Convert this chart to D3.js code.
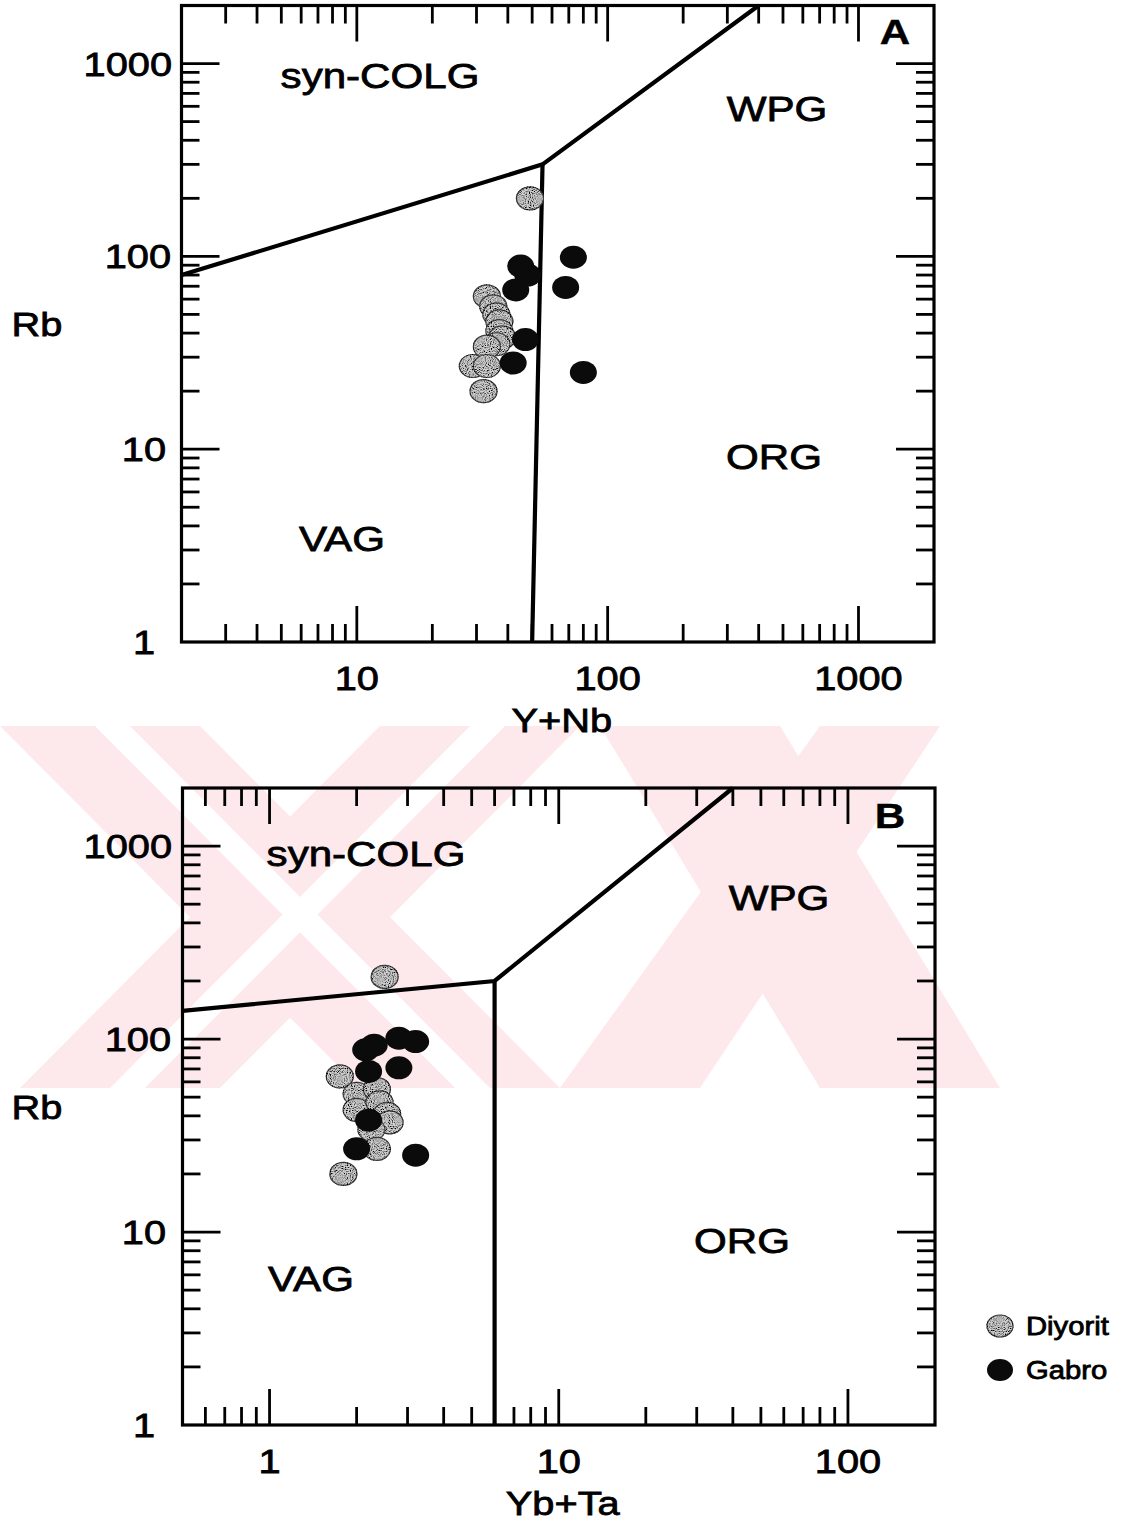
<!DOCTYPE html>
<html><head><meta charset="utf-8">
<script src="https://cdn.jsdelivr.net/npm/d3@7"></script>
<style>body{margin:0;background:#fff} svg{display:block}</style>
</head><body>
<svg id="chart" width="1121" height="1525"></svg>
<script>
// Rb – (Y+Nb) and Rb – (Yb+Ta) granite discrimination diagrams
const diyoritA = [[49,200],[33,62],[35,55],[36,50],[37,46],[37,41],[38,38],[36,35],[33,34],[29,27],[33,27],[32,20]];
const gabroA   = [[45,89],[48,80],[43,67],[73,99],[68,69],[47,37],[42,28],[80,25]];
const diyoritB = [[2.5,210],[1.75,64],[2.0,52],[2.35,55],[2.0,43],[2.4,47],[2.55,41],[2.6,37],[2.25,34],[2.35,27],[1.8,20]];
const gabroB   = [[2.15,88],[2.3,93],[2.8,101],[3.2,97],[2.2,68],[2.8,71],[2.2,38],[2.0,27],[3.2,25]];
const boundaryA = [[[2,80],[55,300],[400,2000]], [[55,300],[50,1]]];
const boundaryB = [[[0.5,140],[6,200],[40,2000]], [[6,200],[6,1]]];
const fieldNames = ["syn-COLG","WPG","ORG","VAG"];
const xLabelsA = [10,100,1000];
const xLabelsB = [1,10,100];
const yLabels  = [1,10,100,1000];
const seriesNames = ["Diyorit","Gabro"];

const svg = d3.select("#chart");
const FONT = "'Liberation Sans', Arial, sans-serif";
const SX = 1.17; // glyphs are drawn slightly wide

// grain for the light symbols
const defs = svg.append("defs");
const f = defs.append("filter").attr("id","stipple").attr("x","-10%").attr("y","-10%").attr("width","120%").attr("height","120%");
f.append("feTurbulence").attr("type","fractalNoise").attr("baseFrequency","0.95").attr("numOctaves",1).attr("seed",7).attr("result","n");
f.append("feColorMatrix").attr("in","n").attr("type","matrix")
  .attr("values","0 0 0 0 0  0 0 0 0 0  0 0 0 0 0  0 0 0 -3.2 1.9").attr("result","dots");
f.append("feComposite").attr("in","dots").attr("in2","SourceGraphic").attr("operator","in").attr("result","d2");
const fm = f.append("feMerge");
fm.append("feMergeNode").attr("in","SourceGraphic");
fm.append("feMergeNode").attr("in","d2");

// faint background emblem
const wm = svg.append("g").attr("fill","#fde8ec");
const wmShapes = [
  [[0,726],[200,726],[560,1088],[360,1088]],
  [[380,726],[580,726],[220,1088],[20,1088]],
  [[600,726],[780,726],[1000,1088],[820,1088]],
  [[820,726],[940,726],[700,1088],[560,1088]]
];
wmShapes.forEach(p => wm.append("polygon").attr("points", p.map(d=>d.join(",")).join(" ")));
const wmGaps = svg.append("g").attr("fill","#fff");
[
  [[95,726],[130,726],[490,1088],[455,1088]],
  [[470,726],[505,726],[145,1088],[110,1088]]
].forEach(p => wmGaps.append("polygon").attr("points", p.map(d=>d.join(",")).join(" ")));

function label(g, str, x, y, anchor, size, weight) {
  return g.append("text")
    .attr("transform", `translate(${x},${y}) scale(${SX},1)`)
    .attr("text-anchor", anchor)
    .attr("font-family", FONT)
    .attr("font-size", size)
    .attr("font-weight", weight || "normal")
    .attr("fill", "#000")
    .attr("stroke", "#000")
    .attr("stroke-width", weight ? 0.4 : 0.8)
    .text(str);
}

function panel(opt) {
  const g = svg.append("g");
  const x = d3.scaleLog().domain(opt.xDomain).range([opt.left, opt.right]);
  const y = d3.scaleLog().domain([1, 2000]).range([opt.bottom, opt.top]);
  const isMajor = v => Math.abs(Math.log10(v) - Math.round(Math.log10(v))) < 1e-9;
  const MAJ = 36, MIN = 18;

  // ticks on all four sides, pointing inward
  const xt = x.ticks().filter(v => v > opt.xDomain[0] && v < opt.xDomain[1]);
  const yt = y.ticks().filter(v => v > 1 && v < 2000);
  const tk = g.append("g").attr("stroke","#000").attr("stroke-width",2.8);
  xt.forEach(v => {
    const L = isMajor(v) ? MAJ : MIN;
    tk.append("line").attr("x1",x(v)).attr("x2",x(v)).attr("y1",opt.bottom).attr("y2",opt.bottom-L);
    tk.append("line").attr("x1",x(v)).attr("x2",x(v)).attr("y1",opt.top).attr("y2",opt.top+L);
  });
  yt.forEach(v => {
    const L = isMajor(v) ? MAJ+2 : MIN;
    tk.append("line").attr("y1",y(v)).attr("y2",y(v)).attr("x1",opt.left).attr("x2",opt.left+L);
    tk.append("line").attr("y1",y(v)).attr("y2",y(v)).attr("x1",opt.right).attr("x2",opt.right-L);
  });

  // frame
  g.append("rect").attr("x",opt.left).attr("y",opt.top)
    .attr("width",opt.right-opt.left).attr("height",opt.bottom-opt.top)
    .attr("fill","none").attr("stroke","#000").attr("stroke-width",3.2);

  // tick labels
  const yLabelRight = [155, 166, 171, 172];
  opt.xLabels.forEach(v => label(g, String(v), x(v), opt.bottom+48, "middle", 34));
  yLabels.forEach((v, i) => label(g, String(v), yLabelRight[i], y(v)+12, "end", 34));

  // axis titles
  label(g, opt.xTitle, (opt.left+opt.right)/2 + 4, opt.bottom+90, "middle", 34);
  label(g, "Rb", 37, (opt.top+opt.bottom)/2 + 12, "middle", 34);

  // field boundaries
  const line = d3.line().x(d => x(d[0])).y(d => y(d[1]));
  opt.bounds.forEach(b => g.append("path").attr("d", line(b))
    .attr("fill","none").attr("stroke","#000").attr("stroke-width",4.2).attr("stroke-linejoin","miter"));

  // field names
  opt.fields.forEach(([name, px, py]) => label(g, name, px, py, "middle", 36));
  label(g, opt.tag, opt.tagPos[0], opt.tagPos[1], "middle", 36, "bold");

  // samples
  g.append("g").selectAll("ellipse").data(opt.diyorit).join("ellipse")
    .attr("cx", d => x(d[0])).attr("cy", d => y(d[1]))
    .attr("rx", 13.5).attr("ry", 11.5)
    .attr("fill","#d0d0d0").attr("stroke","#444").attr("stroke-width",1.2)
    .attr("filter","url(#stipple)");
  g.append("g").selectAll("ellipse").data(opt.gabro).join("ellipse")
    .attr("cx", d => x(d[0])).attr("cy", d => y(d[1]))
    .attr("rx", 13.5).attr("ry", 11.5)
    .attr("fill","#0b0b0b");
}

panel({
  xDomain: [2, 2000], left: 181.5, right: 934, top: 5.5, bottom: 642,
  xLabels: xLabelsA, xTitle: "Y+Nb", bounds: boundaryA,
  diyorit: diyoritA, gabro: gabroA, tag: "A", tagPos: [895, 44],
  fields: [[fieldNames[0], 380, 88], [fieldNames[1], 777, 121], [fieldNames[2], 774, 469], [fieldNames[3], 342, 551]]
});

panel({
  xDomain: [0.5, 200], left: 182.5, right: 935, top: 788, bottom: 1425,
  xLabels: xLabelsB, xTitle: "Yb+Ta", bounds: boundaryB,
  diyorit: diyoritB, gabro: gabroB, tag: "B", tagPos: [890, 828],
  fields: [[fieldNames[0], 366, 866], [fieldNames[1], 779, 910], [fieldNames[2], 742, 1253], [fieldNames[3], 311, 1291]]
});

// legend
const lg = svg.append("g");
lg.append("ellipse").attr("cx",1000).attr("cy",1326).attr("rx",13).attr("ry",11)
  .attr("fill","#d0d0d0").attr("stroke","#444").attr("stroke-width",1.2).attr("filter","url(#stipple)");
lg.append("ellipse").attr("cx",1000).attr("cy",1370).attr("rx",13).attr("ry",11).attr("fill","#0b0b0b");
label(lg, seriesNames[0], 1026, 1335, "start", 25);
label(lg, seriesNames[1], 1026, 1379, "start", 25);
</script>
</body></html>
